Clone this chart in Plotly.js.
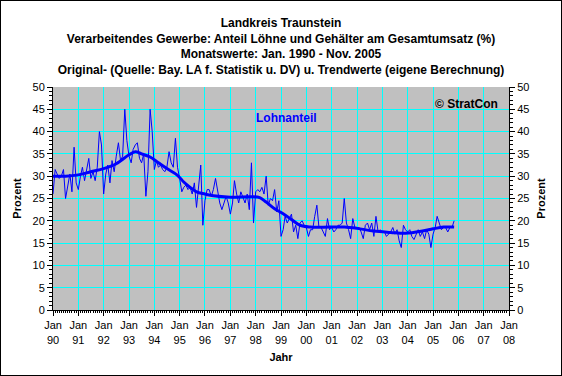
<!DOCTYPE html>
<html>
<head>
<meta charset="utf-8">
<script src="https://cdn.plot.ly/plotly-3.0.1.min.js"></script>
<style>
html,body{margin:0;padding:0;background:#fff;}
#chart{width:560px;height:374px;border:1px solid #000;}
</style>
</head>
<body>
<div id="chart"></div>
<script>
// Monthly values Jan 1990 - Nov 2005 (Lohnanteil, %)
const startYear = 1990;
const lohnanteil = [
  26, 31.5, 30.5, 29.5, 30, 31.5, 25, 28, 30.5, 26.5, 36.5, 28.5,
  27, 30, 32, 29, 31.5, 34, 29.5, 31, 29, 32, 40, 37,
  26, 30.5, 32.5, 28.5, 33.5, 31, 34.5, 37.5, 33.5, 34.5, 45, 38,
  34.5, 33, 36, 37, 37.5, 34, 33, 35, 25.5, 31, 45, 40,
  31.5, 33.5, 32, 32.5, 31.5, 31, 32, 35.5, 33, 32, 38.5, 32,
  29.5, 26.5, 27.5, 28, 27, 27.5, 26, 28.5, 23, 27.5, 32.5, 19,
  24.5, 27, 27, 25.5, 27, 29.5, 27, 24, 22.5, 24, 25.5, 24,
  21.5, 24, 29, 26, 24, 26.5, 25, 24, 26, 22.5, 33, 19.5,
  26.5, 27, 26.5, 27.5, 26, 30, 23.5, 25, 24.5, 27, 22, 24.5,
  16.5, 18, 21, 19.5, 20.5, 21.5, 17.5, 19, 16, 19.5, 20, 19,
  18.5, 16.5, 18, 18, 21, 23.5, 18.5, 18.5, 17.5, 16.5, 20.5, 18,
  18.5, 17.5, 18, 19, 19, 19.5, 25, 19.5, 18, 16, 20.5, 18.5,
  18.5, 18.5, 17.5, 16, 19, 19.5, 18, 19.5, 16.5, 21, 17.5, 18,
  17.5, 17.5, 16.5, 17, 17.5, 18.5, 17, 18, 15.5, 14, 19, 18,
  17.5, 18, 16.5, 15.8, 17, 18, 16.5, 17.5, 16, 18, 17, 14,
  17, 18.5, 21, 19.5, 18, 18.5, 18.5, 17.5, 18.5, 18.5, 20
];
// Trend values read at selected months (month index from Jan 1990)
const trendMonths = [0, 6, 12, 18, 24, 30, 36, 39, 42, 46, 50, 54, 59, 62, 65, 68, 72, 76, 84, 94, 98, 101, 105, 109, 113, 117, 122, 131, 138, 144, 152, 160, 167, 175, 180, 185, 190];
const trendValues = [30, 30, 30.3, 31, 31.7, 32.8, 34.8, 35.5, 35, 34.3, 33, 31.7, 30.2, 28.7, 27.5, 26.5, 26, 25.6, 25.3, 25.4, 25.2, 24.2, 22.7, 21.6, 20.3, 19, 18.6, 18.6, 18.6, 18.3, 17.7, 17.4, 17.2, 17.7, 18.2, 18.6, 18.6];
// Axis tick labels
const tickYears = [1990,1991,1992,1993,1994,1995,1996,1997,1998,1999,2000,2001,2002,2003,2004,2005,2006,2007,2008];
const tickLabels = ['90','91','92','93','94','95','96','97','98','99','00','01','02','03','04','05','06','07','08'];

function monthDate(i){
  const y = startYear + Math.floor(i/12);
  const m = (i % 12) + 1;
  return y + '-' + (m < 10 ? '0' + m : m) + '-01';
}
const xMonths = lohnanteil.map((v,i) => monthDate(i));
const xTrend = trendMonths.map(monthDate);
const tickVals = tickYears.map(y => y + '-01-01');
const tickText = tickLabels.map(l => 'Jan<br>' + l);

const FONT = 'Liberation Sans, Arial, sans-serif';

const traces = [
  {x: xMonths, y: lohnanteil, type: 'scatter', mode: 'lines',
   line: {color: '#0000FF', width: 1}, hoverinfo: 'skip', xaxis: 'x', yaxis: 'y'},
  {x: xTrend, y: trendValues, type: 'scatter', mode: 'lines',
   line: {color: '#0000FF', width: 3, shape: 'spline', smoothing: 1}, hoverinfo: 'skip', xaxis: 'x', yaxis: 'y2'}
];

const yCommon = {
  range: [0, 50], tick0: 0, dtick: 5, tickmode: 'linear',
  showline: true, linecolor: '#000', linewidth: 1,
  ticks: 'outside', ticklen: 5, tickcolor: '#000', tickwidth: 1,
  minor: {tickmode: 'linear', tick0: 0, dtick: 1, ticks: 'outside', ticklen: 3, tickcolor: '#000', showgrid: false},
  zeroline: false, fixedrange: true,
  tickfont: {family: FONT, size: 11, color: '#000'}
};

const layout = {
  width: 560, height: 374,
  margin: {l: 52, r: 52, t: 86, b: 65},
  paper_bgcolor: '#FFFFFF', plot_bgcolor: '#C0C0C0',
  showlegend: false,
  font: {family: FONT, color: '#000'},
  title: {
    text: '<b>Landkreis Traunstein<br>Verarbeitendes Gewerbe: Anteil Löhne und Gehälter am Gesamtumsatz (%)<br>Monatswerte: Jan. 1990 - Nov. 2005<br>Original- (Quelle: Bay. LA f. Statistik u. DV) u. Trendwerte (eigene Berechnung)</b>',
    font: {family: FONT, size: 12, color: '#000'},
    x: 0.5, xref: 'container', xanchor: 'center',
    y: 1 - 26/374, yref: 'container', yanchor: 'top'
  },
  xaxis: {
    type: 'date', range: ['1990-01-01', '2008-01-01'],
    tickmode: 'array', tickvals: tickVals, ticktext: tickText,
    showgrid: true, gridcolor: '#00FFFF', gridwidth: 1,
    showline: true, linecolor: '#000', linewidth: 1,
    ticks: 'outside', ticklen: 5, tickcolor: '#000',
    minor: {tickmode: 'linear', tick0: '1990-01-01', dtick: 'M1', ticks: 'outside', ticklen: 2, tickcolor: '#000', showgrid: false},
    zeroline: false, fixedrange: true,
    tickfont: {family: FONT, size: 11, color: '#000'},
    title: {text: '<b>Jahr</b>', font: {family: FONT, size: 11, color: '#000'}, standoff: 8}
  },
  yaxis: Object.assign({}, yCommon, {
    side: 'left', showgrid: true, gridcolor: '#00FFFF', gridwidth: 1,
    title: {text: '<b>Prozent</b>', font: {family: FONT, size: 11, color: '#000'}, standoff: 8}
  }),
  yaxis2: Object.assign({}, yCommon, {
    side: 'right', overlaying: 'y', showgrid: false,
    title: {text: '<b>Prozent</b>', font: {family: FONT, size: 11, color: '#000'}, standoff: 8}
  }),
  annotations: [
    {text: '<b>Lohnanteil</b>', xref: 'paper', yref: 'paper', x: 0.512, y: 0.861,
     xanchor: 'center', yanchor: 'middle', showarrow: false,
     font: {family: FONT, size: 12, color: '#0000FF'}},
    {text: '<b>© StratCon</b>', xref: 'paper', yref: 'paper', x: 0.906, y: 0.924,
     xanchor: 'center', yanchor: 'middle', showarrow: false,
     font: {family: FONT, size: 12, color: '#000'}}
  ]
};

Plotly.newPlot('chart', traces, layout, {staticPlot: true, displayModeBar: false});
</script>
</body>
</html>
